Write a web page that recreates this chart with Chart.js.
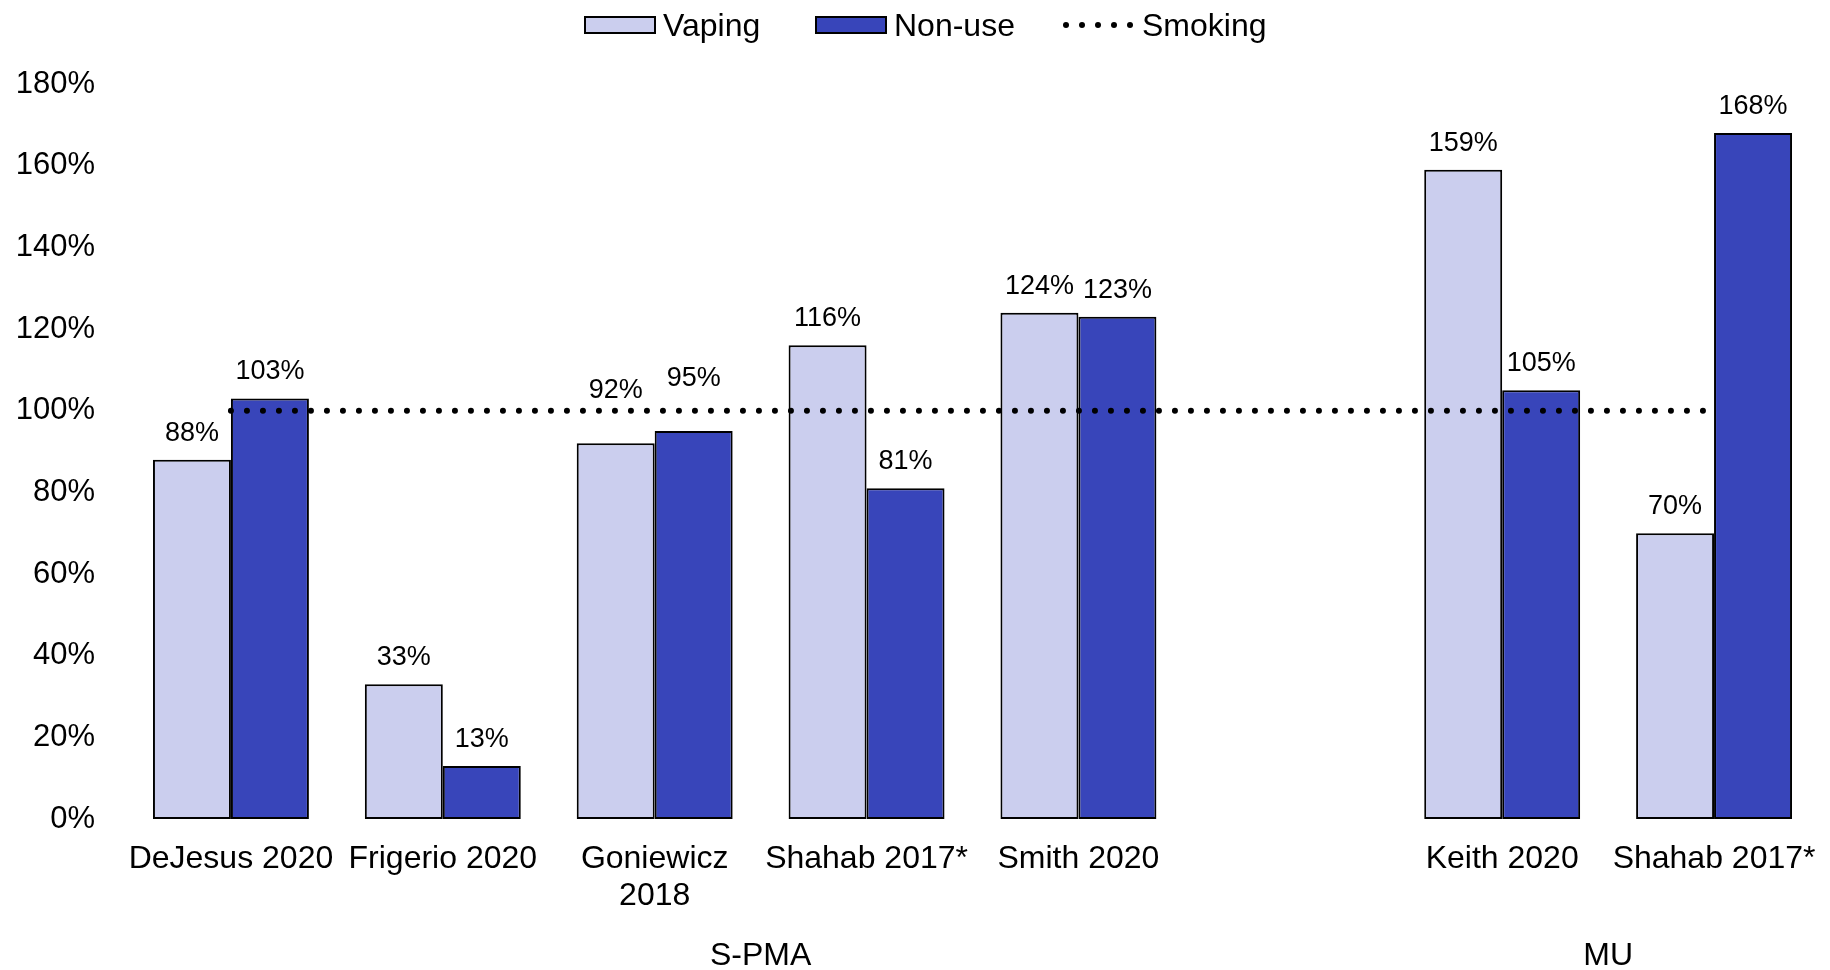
<!DOCTYPE html>
<html>
<head>
<meta charset="utf-8">
<script src="https://cdn.jsdelivr.net/npm/chart.js@4.4.1/dist/chart.umd.min.js"></script>
<style>
  html, body { margin: 0; padding: 0; background: #fff; }
  #wrap { position: relative; width: 1830px; height: 970px; font-family: 'Liberation Sans', Arial, sans-serif; }
  #chart { position: absolute; left: 0; top: 0; }
  .leg { position: absolute; top: 1px; height: 48px; display: flex; align-items: center; font-size: 32px; color: #000; }
  .box { width: 68px; height: 14px; border: 2px solid #000; margin-right: 7px; }
</style>
</head>
<body>
<div id="wrap">
  <canvas id="chart" width="1830" height="970"></canvas>
  <div class="leg" style="left:584px"><div class="box" style="background:#cbceee"></div>Vaping</div>
  <div class="leg" style="left:815px"><div class="box" style="background:#3845ba"></div>Non-use</div>
  <div class="leg" style="left:1062px">
    <svg width="72" height="8" style="margin-right:8px">
      <circle cx="4" cy="4" r="3" fill="#000"/><circle cx="20" cy="4" r="3" fill="#000"/>
      <circle cx="36" cy="4" r="3" fill="#000"/><circle cx="52" cy="4" r="3" fill="#000"/>
      <circle cx="68" cy="4" r="3" fill="#000"/>
    </svg>Smoking</div>
</div>
<script>
// data
const categories = ['DeJesus 2020', 'Frigerio 2020', ['Goniewicz', '2018'], 'Shahab 2017*', 'Smith 2020', '', 'Keith 2020', 'Shahab 2017*'];
const vaping = [88, 33, 92, 116, 124, null, 159, 70];
const nonUse = [103, 13, 95, 81, 123, null, 105, 168];
const smoking = [100, 100, 100, 100, 100, 100, 100, 100];
const groupNames = ['S-PMA', 'MU'];
const groupSpans = [[0, 5], [6, 7]]; // first and last category index of each group
const yTicks = [0, 20, 40, 60, 80, 100, 120, 140, 160, 180];

const FONT = "'Liberation Sans', Arial, sans-serif";

// value labels above the bars, nudged up when they would sit on the smoking line
const barLabels = {
    id: 'barLabels',
    afterDatasetsDraw(chart) {
        const ctx = chart.ctx;
        const yScale = chart.scales.y;
        ctx.save();
        ctx.font = '27px ' + FONT;
        ctx.fillStyle = '#000';
        ctx.textAlign = 'center';
        ctx.textBaseline = 'alphabetic';
        chart.data.datasets.forEach((ds, di) => {
            if (ds.type === 'line') return;
            const meta = chart.getDatasetMeta(di);
            meta.data.forEach((bar, i) => {
                const v = ds.data[i];
                if (v === null || v === undefined) return;
                let base = bar.y - 19;
                const lineY = yScale.getPixelForValue(smoking[i]);
                if (lineY > base - 24 && lineY < base + 6) base -= 26;
                ctx.fillText(v + '%', bar.x, base);
            });
        });
        ctx.restore();
    }
};

// second row of category labels: group names centred under their categories
const groupLabels = {
    id: 'groupLabels',
    afterDraw(chart) {
        const ctx = chart.ctx;
        const xScale = chart.scales.x;
        ctx.save();
        ctx.font = '32px ' + FONT;
        ctx.fillStyle = '#000';
        ctx.textAlign = 'center';
        ctx.textBaseline = 'alphabetic';
        groupNames.forEach((name, g) => {
            const mid = (groupSpans[g][0] + groupSpans[g][1]) / 2;
            ctx.fillText(name, xScale.getPixelForValue(mid), xScale.bottom - 5);
        });
        ctx.restore();
    }
};

new Chart(document.getElementById('chart'), {
    type: 'bar',
    data: {
        labels: categories,
        datasets: [
            {
                type: 'line',
                label: 'Smoking',
                data: smoking,
                borderColor: '#000',
                borderWidth: 6,
                borderDash: [0, 16],
                borderCapStyle: 'round',
                pointRadius: 0,
                fill: false,
                order: 0
            },
            {
                label: 'Vaping',
                data: vaping,
                backgroundColor: '#cbceee',
                borderColor: '#000',
                borderWidth: 2,
                borderSkipped: false,
                order: 1
            },
            {
                label: 'Non-use',
                data: nonUse,
                backgroundColor: '#3845ba',
                borderColor: '#000',
                borderWidth: 2,
                borderSkipped: false,
                order: 1
            }
        ]
    },
    options: {
        responsive: false,
        animation: false,
        layout: { padding: { top: 84, right: 10, bottom: 0, left: 0 } },
        categoryPercentage: 0.736,
        barPercentage: 1.0,
        plugins: {
            legend: { display: false },
            tooltip: { enabled: false }
        },
        scales: {
            y: {
                min: 0,
                max: 180,
                afterBuildTicks: axis => { axis.ticks = yTicks.map(v => ({ value: v })); },
                afterFit: axis => { axis.width = 125; axis.paddingTop = 0; axis.paddingBottom = 0; },
                grid: { display: false, drawTicks: false },
                border: { display: false },
                ticks: {
                    padding: 30,
                    color: '#000',
                    font: { family: FONT, size: 31 },
                    callback: v => v + '%'
                }
            },
            x: {
                position: 'bottom',
                afterFit: axis => { axis.height = 151; axis.paddingLeft = 0; axis.paddingRight = 0; },
                grid: { display: false, drawTicks: false },
                border: { display: false },
                ticks: {
                    padding: 22,
                    maxRotation: 0,
                    autoSkip: false,
                    color: '#000',
                    font: { family: FONT, size: 32, lineHeight: 1.15 }
                }
            }
        }
    },
    plugins: [barLabels, groupLabels]
});
</script>
</body>
</html>
